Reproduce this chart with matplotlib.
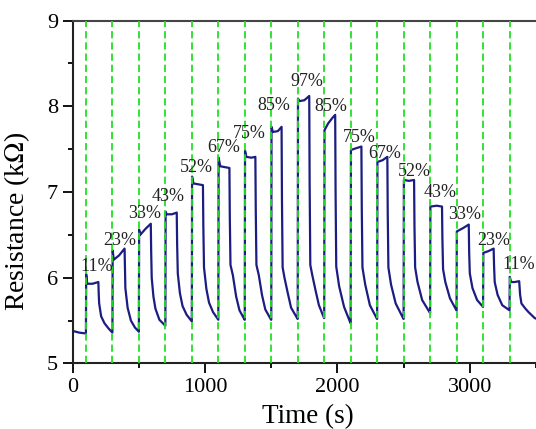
import numpy as np
import matplotlib
matplotlib.use("Agg")
import matplotlib.pyplot as plt
from matplotlib.ticker import MultipleLocator

# gas switch times (s)
switch_times = [100, 300, 500, 700, 900, 1100, 1300, 1500, 1700, 1900,
                2100, 2300, 2500, 2700, 2900, 3100, 3300]

# response curve, one row per cycle
time_s = [
    0, 50, 99,
    100, 102, 110, 150, 194, 197, 200, 215, 240, 270, 299,
    300, 302, 310, 350, 392, 395, 398, 415, 440, 470, 499,
    500, 502, 510, 550, 590, 593, 597, 610, 625, 655, 699,
    700, 702, 710, 750, 786, 789, 794, 810, 830, 860, 899,
    900, 902, 912, 950, 984, 987, 992, 1010, 1030, 1060, 1099,
    1100, 1102, 1115, 1150, 1184, 1187, 1192, 1210, 1235, 1260, 1299,
    1300, 1302, 1312, 1350, 1380, 1383, 1388, 1406, 1430, 1455, 1499,
    1500, 1502, 1512, 1550, 1578, 1581, 1586, 1600, 1625, 1650, 1699,
    1700, 1702, 1712, 1750, 1787, 1790, 1795, 1810, 1835, 1860, 1899,
    1900, 1902, 1930, 1960, 1983, 1986, 1991, 2013, 2050, 2099,
    2100, 2102, 2140, 2181, 2184, 2189, 2210, 2245, 2299,
    2300, 2302, 2340, 2377, 2380, 2385, 2405, 2440, 2499,
    2500, 2502, 2540, 2579, 2582, 2587, 2605, 2640, 2699,
    2700, 2702, 2750, 2790, 2793, 2798, 2815, 2850, 2899,
    2900, 2902, 2950, 2992, 2995, 3000, 3020, 3055, 3099,
    3100, 3102, 3140, 3180, 3183, 3188, 3210, 3245, 3299,
    3300, 3302, 3312, 3340, 3373, 3380, 3390, 3420, 3443, 3490, 3520,
]
resistance = [
    5.38, 5.36, 5.35,
    5.35, 6.04, 5.93, 5.93, 5.95, 5.80, 5.70, 5.55, 5.47, 5.41, 5.36,
    5.36, 6.32, 6.21, 6.26, 6.34, 6.10, 5.88, 5.65, 5.50, 5.42, 5.37,
    5.37, 6.56, 6.50, 6.57, 6.63, 6.30, 6.00, 5.78, 5.64, 5.51, 5.44,
    5.44, 6.77, 6.74, 6.74, 6.76, 6.40, 6.05, 5.82, 5.67, 5.57, 5.49,
    5.49, 7.18, 7.10, 7.09, 7.08, 6.60, 6.12, 5.87, 5.71, 5.60, 5.51,
    5.51, 7.40, 7.30, 7.29, 7.28, 6.70, 6.15, 6.03, 5.78, 5.62, 5.51,
    5.51, 7.48, 7.41, 7.40, 7.41, 6.80, 6.15, 6.03, 5.80, 5.63, 5.51,
    5.51, 7.76, 7.70, 7.71, 7.76, 6.90, 6.12, 6.00, 5.82, 5.65, 5.52,
    5.52, 8.09, 8.06, 8.07, 8.12, 7.10, 6.15, 6.03, 5.85, 5.68, 5.53,
    5.53, 7.72, 7.80, 7.86, 7.90, 7.00, 6.13, 5.90, 5.66, 5.47,
    5.47, 7.49, 7.51, 7.53, 6.80, 6.12, 5.92, 5.68, 5.52,
    5.52, 7.35, 7.37, 7.41, 6.75, 6.12, 5.92, 5.70, 5.52,
    5.52, 7.14, 7.13, 7.14, 6.60, 6.12, 5.95, 5.74, 5.59,
    5.59, 6.83, 6.84, 6.83, 6.45, 6.10, 5.95, 5.76, 5.62,
    5.62, 6.54, 6.58, 6.62, 6.30, 6.05, 5.88, 5.74, 5.66,
    5.66, 6.29, 6.31, 6.34, 6.15, 5.95, 5.80, 5.68, 5.62,
    5.62, 6.01, 5.95, 5.95, 5.96, 5.80, 5.70, 5.64, 5.60, 5.53, 5.51,
]

labels = ["11%", "23%", "33%", "43%", "52%", "67%", "75%", "85%", "97%",
          "85%", "75%", "67%", "52%", "43%", "33%", "23%", "11%"]
label_t = [183, 358, 542, 722, 933, 1139, 1335, 1516, 1769,
           1953, 2166, 2359, 2578, 2773, 2961, 3180, 3368]
label_r = [6.13, 6.44, 6.75, 6.95, 7.28, 7.52, 7.68, 8.01, 8.29,
           8.00, 7.64, 7.45, 7.24, 6.99, 6.74, 6.44, 6.15]

plt.rcParams['font.family'] = ['Liberation Serif', 'DejaVu Serif']
plt.rcParams['mathtext.fontset'] = 'stix'

fig = plt.figure(figsize=(5.36, 4.29), dpi=100)
ax = fig.add_axes([0.1356, 0.1527, 0.8644, 0.7995])

ax.plot(time_s, resistance, color='#1c1c82', lw=1.6, zorder=2)
for t in switch_times:
    ax.axvline(t, color='#22e022', lw=1.3, dashes=(4, 2.2), zorder=3)

for s, t, r in zip(labels, label_t, label_r):
    ax.text(t, r, s, ha='center', va='center', fontsize=13, color='#222222', zorder=4)

ax.set_xlim(0, 3500)
ax.set_ylim(5, 9)
ax.xaxis.set_major_locator(MultipleLocator(1000))
ax.xaxis.set_minor_locator(MultipleLocator(500))
ax.yaxis.set_major_locator(MultipleLocator(1))
ax.yaxis.set_minor_locator(MultipleLocator(0.5))
ax.tick_params(which='major', direction='out', length=7, width=1.3,
               labelsize=16, labelcolor='black')
ax.tick_params(which='minor', direction='out', length=3.6, width=1.3)
ax.spines['right'].set_visible(False)
for sp in ['left', 'bottom', 'top']:
    ax.spines[sp].set_linewidth(1.5)
    ax.spines[sp].set_color('#222222')
ax.spines['top'].set_color('#444444')

ax.set_xlabel('Time (s)', fontsize=19.5)
ax.set_ylabel('Resistance (k$\\Omega$)', fontsize=20)
ax.xaxis.set_label_coords(0.507, -0.117)
ax.yaxis.set_label_coords(-0.088, 0.415)

fig.savefig('out.png', dpi=100)
